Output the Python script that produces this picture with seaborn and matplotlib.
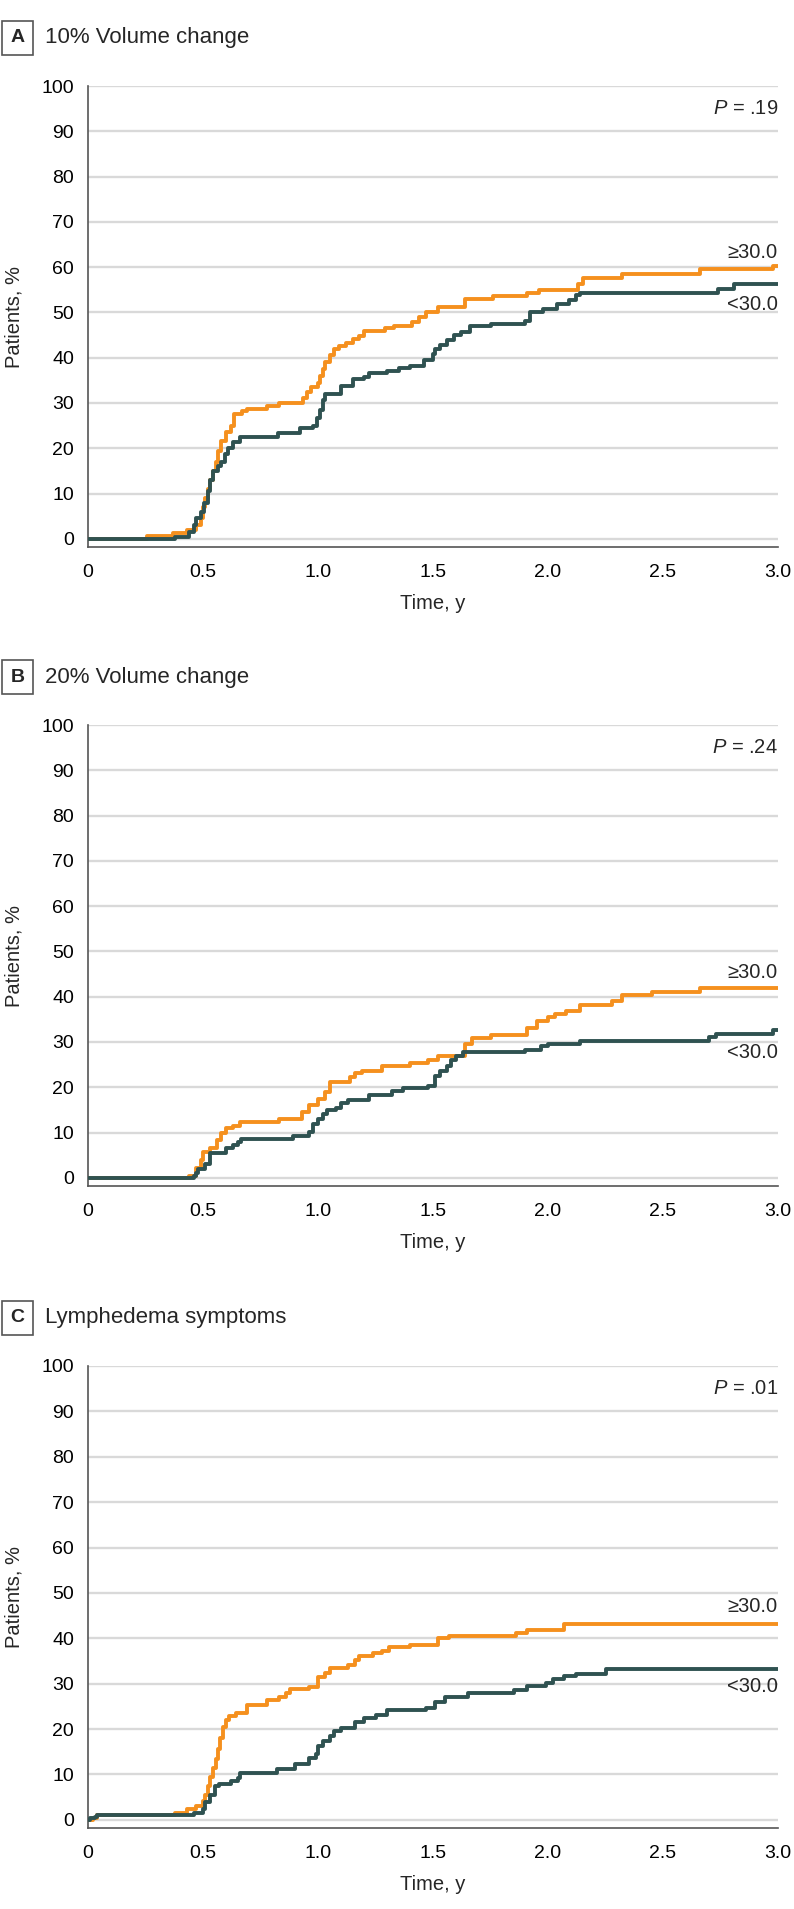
import matplotlib
matplotlib.use("Agg")
import matplotlib.pyplot as plt
import pandas as pd
import seaborn as sns

# --------- dados ---------
GRUPOS = ["≥30.0", "<30.0"]
TITULOS = ["10% Volume change", "20% Volume change", "Lymphedema symptoms"]
LETRAS = ["A", "B", "C"]
P_VALORES = [".19", ".24", ".01"]
X_TICKS = [0, 0.5, 1.0, 1.5, 2.0, 2.5, 3.0]
X_TICK_LABELS = ["0", "0.5", "1.0", "1.5", "2.0", "2.5", "3.0"]

# A - 10% volume change
a_alto_t = [0, 0.255, 0.37, 0.43, 0.47, 0.49, 0.50, 0.51, 0.52, 0.53, 0.545, 0.555, 0.565, 0.58, 0.60,
            0.62, 0.635, 0.67, 0.69, 0.78, 0.83, 0.935, 0.95, 0.97, 1.00, 1.01, 1.02, 1.03, 1.05, 1.07,
            1.09, 1.12, 1.15, 1.18, 1.20, 1.29, 1.33, 1.41, 1.44, 1.47, 1.52, 1.64, 1.76, 1.91, 1.96,
            2.13, 2.15, 2.32, 2.66, 2.98, 3.0]
a_alto_v = [0, 0.6, 1.2, 2.0, 3.0, 4.5, 7.0, 9.0, 11.0, 13.0, 15.0, 17.0, 19.5, 21.5, 23.5,
            25.0, 27.5, 28.2, 28.7, 29.3, 30.0, 31.0, 32.5, 33.6, 34.5, 36.0, 37.5, 39.0, 40.5, 42.0,
            42.6, 43.3, 44.1, 44.8, 45.8, 46.5, 47.1, 47.9, 48.9, 50.0, 51.3, 53.0, 53.7, 54.2, 54.9,
            56.2, 57.6, 58.5, 59.5, 60.3, 60.3]
a_baixo_t = [0, 0.38, 0.44, 0.46, 0.47, 0.49, 0.505, 0.52, 0.53, 0.545, 0.565, 0.58, 0.595, 0.61, 0.63,
             0.66, 0.825, 0.92, 0.98, 0.995, 1.01, 1.02, 1.03, 1.10, 1.15, 1.20, 1.22, 1.30, 1.35, 1.40,
             1.46, 1.50, 1.51, 1.53, 1.56, 1.59, 1.62, 1.66, 1.75, 1.90, 1.92, 1.98, 2.04, 2.09, 2.12,
             2.14, 2.74, 2.81, 3.0]
a_baixo_v = [0, 0.5, 1.5, 3.0, 4.5, 6.0, 8.0, 10.5, 13.0, 15.0, 16.0, 17.0, 18.8, 20.0, 21.3,
             22.6, 23.4, 24.5, 25.0, 26.7, 28.5, 30.6, 32.0, 33.8, 35.2, 35.7, 36.7, 37.1, 37.7, 38.1,
             39.4, 40.8, 42.0, 42.8, 44.0, 45.0, 45.6, 47.1, 47.5, 48.2, 50.0, 50.7, 51.8, 52.8, 53.8,
             54.2, 55.2, 56.2, 56.2]

# B - 20% volume change
b_alto_t = [0, 0.44, 0.47, 0.49, 0.50, 0.53, 0.56, 0.58, 0.60, 0.63, 0.66, 0.83, 0.93, 0.96, 1.00,
            1.03, 1.05, 1.14, 1.16, 1.19, 1.28, 1.40, 1.48, 1.52, 1.64, 1.67, 1.75, 1.91, 1.95, 2.00,
            2.03, 2.08, 2.14, 2.28, 2.32, 2.45, 2.66, 3.0]
b_alto_v = [0, 0.5, 2.1, 3.9, 5.7, 6.7, 8.3, 9.8, 11.0, 11.4, 12.4, 13.0, 14.6, 16.1, 17.5,
            19.0, 21.1, 22.3, 23.1, 23.6, 24.6, 25.4, 26.0, 26.8, 29.5, 30.9, 31.5, 33.2, 34.6, 35.6,
            36.1, 36.8, 38.2, 39.0, 40.3, 41.1, 41.9, 41.9]
b_baixo_t = [0, 0.46, 0.47, 0.48, 0.51, 0.53, 0.60, 0.63, 0.65, 0.665, 0.89, 0.96, 0.98, 1.00, 1.02,
             1.04, 1.08, 1.10, 1.13, 1.22, 1.32, 1.37, 1.48, 1.51, 1.53, 1.56, 1.58, 1.60, 1.63, 1.90,
             1.97, 2.00, 2.14, 2.70, 2.73, 2.98, 3.0]
b_baixo_v = [0, 0.5, 1.0, 2.0, 3.1, 5.5, 6.7, 7.2, 8.0, 8.5, 9.3, 10.2, 11.8, 13.0, 14.0,
             15.0, 15.4, 16.5, 17.3, 18.3, 19.1, 19.8, 20.2, 22.4, 23.6, 24.6, 26.0, 27.0, 27.7, 28.3,
             29.1, 29.6, 30.2, 31.1, 31.7, 32.7, 32.7]

# C - sintomas de linfedema
c_alto_t = [0, 0.02, 0.04, 0.38, 0.43, 0.47, 0.50, 0.51, 0.52, 0.53, 0.545, 0.555, 0.565, 0.575, 0.585,
            0.60, 0.615, 0.645, 0.69, 0.78, 0.83, 0.86, 0.88, 0.96, 1.00, 1.03, 1.05, 1.13, 1.16, 1.18,
            1.24, 1.28, 1.31, 1.40, 1.52, 1.57, 1.86, 1.91, 2.07, 3.0]
c_alto_v = [0, 0.4, 1.0, 1.4, 2.4, 3.1, 4.2, 5.5, 7.5, 9.4, 11.5, 13.5, 15.7, 18.0, 20.4,
            22.0, 22.9, 23.5, 25.4, 26.3, 27.0, 28.0, 28.8, 29.2, 31.4, 32.4, 33.5, 34.1, 35.2, 36.1,
            36.7, 37.3, 38.0, 38.6, 40.0, 40.6, 41.2, 41.8, 43.2, 43.2]
c_baixo_t = [0, 0.01, 0.03, 0.04, 0.46, 0.50, 0.51, 0.53, 0.55, 0.57, 0.62, 0.65, 0.66, 0.82, 0.90,
             0.96, 0.99, 1.00, 1.02, 1.05, 1.07, 1.10, 1.16, 1.20, 1.25, 1.30, 1.47, 1.51, 1.55, 1.65,
             1.85, 1.91, 1.99, 2.02, 2.07, 2.12, 2.25, 3.0]
c_baixo_v = [0, 0.3, 0.6, 1.0, 1.6, 2.4, 4.0, 5.5, 7.5, 8.0, 8.6, 9.2, 10.4, 11.1, 12.3,
             13.7, 14.5, 16.3, 17.3, 18.5, 19.5, 20.3, 21.6, 22.4, 23.2, 24.3, 24.7, 25.9, 27.0, 27.9,
             28.6, 29.4, 30.1, 31.0, 31.6, 32.2, 33.2, 33.2]

# posicao (em %) dos rotulos a direita
ROTULO_ALTO_Y = [63.3, 45.3, 46.9]
ROTULO_BAIXO_Y = [51.8, 27.7, 29.4]
# --------------------------------------------

LARANJA = "#F5901E"
ESCURO = "#2F5251"
CINZA = "#555555"
W, H = 794, 1909
FONTE = ["Liberation Sans Narrow", "Liberation Sans", "DejaVu Sans"]


def painel(ax, alto_t, alto_v, baixo_t, baixo_v, p, y_alto, y_baixo):
    df = pd.concat([
        pd.DataFrame({"t": alto_t, "v": alto_v, "grupo": GRUPOS[0]}),
        pd.DataFrame({"t": baixo_t, "v": baixo_v, "grupo": GRUPOS[1]}),
    ])
    sns.lineplot(data=df, x="t", y="v", hue="grupo", hue_order=GRUPOS,
                 palette={GRUPOS[0]: LARANJA, GRUPOS[1]: ESCURO},
                 estimator=None, sort=False, drawstyle="steps-post",
                 linewidth=2.8, legend=False, ax=ax, zorder=3)

    ax.set_xlim(0, 3.0)
    ax.set_ylim(-1.8, 100)
    ax.set_xticks(X_TICKS)
    ax.set_xticklabels(X_TICK_LABELS)
    ax.set_yticks(range(0, 101, 10))
    ax.yaxis.grid(True, color="#d9d9d9", linewidth=1.7, zorder=0)
    ax.xaxis.grid(False)
    for lado in ["top", "right"]:
        ax.spines[lado].set_visible(False)
    for lado in ["left", "bottom"]:
        ax.spines[lado].set_color(CINZA)
        ax.spines[lado].set_linewidth(1.2)
    ax.tick_params(axis="both", direction="out", length=6, width=1.2, color=CINZA,
                   labelsize=14, labelcolor="black", pad=4)
    ax.tick_params(axis="x", pad=6)

    ax.set_xlabel("Time, y", fontsize=14.5)
    ax.set_ylabel("Patients, %", fontsize=14.5)
    ax.xaxis.set_label_coords(0.5, -0.122)
    ax.xaxis.label.set_va("center")
    ax.yaxis.set_label_coords(-0.107, 0.5)
    ax.yaxis.label.set_va("center")

    ax.text(3.0, 95, r"$\mathit{P}$ = " + p, ha="right", va="center", fontsize=14.5)
    ax.text(3.0, y_alto, GRUPOS[0], ha="right", va="center", fontsize=14.5)
    ax.text(3.0, y_baixo, GRUPOS[1], ha="right", va="center", fontsize=14.5)


def main():
    sns.set_theme(style="white")
    plt.rcParams["font.family"] = FONTE
    plt.rcParams["mathtext.fontset"] = "custom"
    plt.rcParams["mathtext.rm"] = "Liberation Sans"
    plt.rcParams["mathtext.it"] = "Liberation Sans:italic"

    fig = plt.figure(figsize=(W / 100, H / 100), dpi=100)

    # topo (linha 100) e base (eixo x) de cada painel, em pixels
    limites = [(86, 547), (725, 1186), (1366, 1828)]
    dados = [
        (a_alto_t, a_alto_v, a_baixo_t, a_baixo_v),
        (b_alto_t, b_alto_v, b_baixo_t, b_baixo_v),
        (c_alto_t, c_alto_v, c_baixo_t, c_baixo_v),
    ]
    esq, dir_ = 88, 778
    for i, (topo, base) in enumerate(limites):
        ax = fig.add_axes([esq / W, 1 - base / H, (dir_ - esq) / W, (base - topo) / H])
        painel(ax, *dados[i], P_VALORES[i], ROTULO_ALTO_Y[i], ROTULO_BAIXO_Y[i])

        y_tit = 1 - (topo - 48) / H
        fig.text(17.5 / W, y_tit, LETRAS[i], ha="center", va="center", fontsize=14,
                 fontweight="bold",
                 bbox=dict(boxstyle="square,pad=0.45", fc="white", ec=CINZA, lw=1.2))
        fig.text(45 / W, y_tit, TITULOS[i], ha="left", va="center", fontsize=16)

    fig.savefig("out.png", dpi=100)


if __name__ == "__main__":
    main()
